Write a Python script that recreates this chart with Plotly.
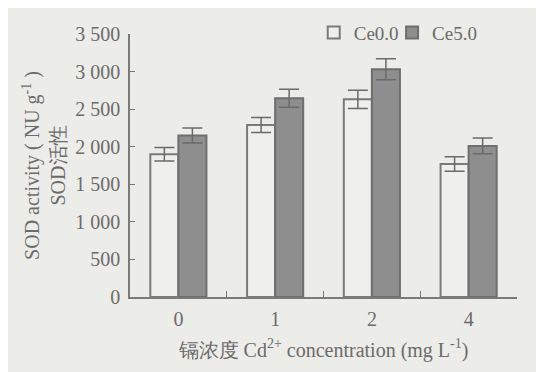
import plotly.graph_objects as go

categories = ["0", "1", "2", "4"]
ce0_values = [1900, 2290, 2630, 1770]
ce0_errors = [90, 100, 120, 95]
ce5_values = [2150, 2645, 3030, 2010]
ce5_errors = [100, 120, 140, 105]
y_tickvals = [0, 500, 1000, 1500, 2000, 2500, 3000, 3500]
y_ticktext = ["0", "500", "1 000", "1 500", "2 000", "2 500", "3 000", "3 500"]

txt = "#6b6b6b"
fs = 20
font = dict(family="Liberation Serif, Times New Roman, serif", size=fs, color=txt)

fig = go.Figure()
fig.add_trace(go.Bar(
    name="Ce0.0", x=categories, y=ce0_values, legend="legend",
    marker=dict(color="#efefed", line=dict(color="#7a7a7a", width=2)),
    error_y=dict(type="data", array=ce0_errors, color="#6a6a6a", thickness=1.5, width=10),
))
fig.add_trace(go.Bar(
    name="Ce5.0", x=categories, y=ce5_values, legend="legend2",
    marker=dict(color="#8e8e8e", line=dict(color="#6e6e6e", width=2)),
    error_y=dict(type="data", array=ce5_errors, color="#6a6a6a", thickness=1.5, width=10),
))

leg_common = dict(orientation="h", xref="container", yref="container",
                  y=0.934, xanchor="left", yanchor="middle",
                  bgcolor="rgba(0,0,0,0)", font=dict(size=19, color=txt), itemwidth=30)

fig.update_layout(
    width=544, height=372,
    margin=dict(l=122, r=35, t=26, b=83, autoexpand=False),
    paper_bgcolor="#ecece9", plot_bgcolor="#ecece9",
    font=font,
    barmode="group", bargap=0.42, bargroupgap=0,
    showlegend=True,
    legend=dict(x=0.562, **leg_common),
    legend2=dict(x=0.706, **leg_common),
    xaxis=dict(
        type="category", showline=True, linecolor="#7a7a7a", linewidth=1.5,
        ticks="inside", ticklen=6, tickcolor="#7a7a7a", tickson="boundaries",
        showgrid=False, tickfont=dict(size=fs, color=txt), ticklabelstandoff=3,
        title=dict(text="镉浓度 Cd<sup>2+</sup> concentration (mg L<sup>-1</sup>)",
                   font=dict(size=fs, color=txt), standoff=14),
    ),
    yaxis=dict(
        range=[0, 3500], showline=True, linecolor="#7a7a7a", linewidth=1.5,
        ticks="inside", ticklen=5, tickcolor="#7a7a7a",
        tickvals=y_tickvals, ticktext=y_ticktext, ticklabelstandoff=4,
        showgrid=False, zeroline=False, tickfont=dict(size=fs, color=txt),
        title=dict(text="SOD activity ( NU g<sup>-1</sup> )<br>SOD活性",
                   font=dict(size=fs, color=txt), standoff=4),
    ),
)

fig.write_html("out.html")
